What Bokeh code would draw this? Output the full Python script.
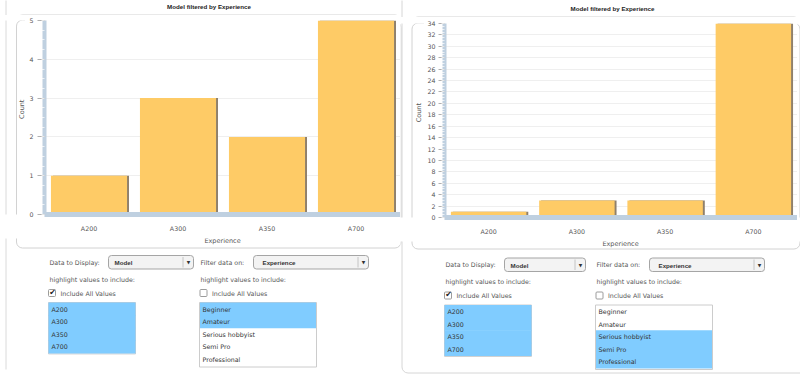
import math
from bokeh.plotting import figure
from bokeh.models import FactorRange, Range1d, SingleIntervalTicker, ColumnDataSource
from bokeh.layouts import row, column
from bokeh.transform import dodge
from bokeh.core.properties import value
from bokeh.embed import file_html
from bokeh.resources import INLINE

# ---------------- data ----------------
models = ["A200", "A300", "A350", "A700"]
counts_left = [1, 3, 2, 5]
counts_right = [1, 3, 3, 34]
experience_levels = ["Beginner", "Amateur", "Serious hobbyist", "Semi Pro", "Professional"]
selected_left = ["Beginner", "Amateur"]
selected_right = ["Serious hobbyist", "Semi Pro", "Professional"]
chart_title = "Model filtered by Experience"
x_title = "Experience"
y_title = "Count"
display_field = "Model"
filter_field = "Experience"
display_label = "Data to Display:"
filter_label = "Filter data on:"
hint_label = "highlight values to include:"
all_label = "Include All Values"

FONT = "DejaVu Sans"
BFONT = "Liberation Sans"
FS = "6.3px"
BAR = "#fecb66"
SHADOW = "#8f806c"
AXIS_BLUE = "#bfd0e0"
TXT = "#555555"
HILITE = "#80ccff"
EDGE = "#d2d2d2"


def deco(w, h, x0, y0):
    p = figure(width=w, height=h, x_range=Range1d(x0, x0 + w), y_range=Range1d(y0 + h, y0),
               toolbar_location=None, output_backend="svg",
               x_axis_location=None, y_axis_location=None,
               min_border=0, min_border_left=0, min_border_right=0,
               min_border_top=0, min_border_bottom=0)
    for g in p.grid:
        g.visible = False
    p.outline_line_color = None
    p.background_fill_color = "white"
    p.border_fill_color = "white"
    return p


def T(p, x, y, s, bold=False, color=TXT, align="left", size=None, angle=0):
    p.text(x=[x], y=[y], text=[s],
           text_font=value(BFONT if bold else FONT),
           text_font_size=value(size or ("6.2px" if bold else FS)),
           text_font_style=value("bold" if bold else "normal"),
           text_color=color, text_align=align, text_baseline="middle", angle=angle)


def Q(p, l, r, t, b, fill=None, line=EDGE, radius=0, lw=1):
    p.quad(left=[l], right=[r], top=[t], bottom=[b], fill_color=fill,
           line_color=line, line_width=lw, border_radius=radius)


def frames(p):
    # chart boxes and panel borders, in page pixel coordinates
    Q(p, 16, 400.5, 14.5, 247.5, radius=6)            # left chart box
    Q(p, 411.5, 799.5, 16.5, 248.5, radius=6)          # right chart box
    Q(p, 401.5, 900, -30, 372.5, radius=6, line="#d6d6d6")  # right panel
    p.segment(x0=[5.5], y0=[-5], x1=[5.5], y1=[369], line_color="#dadada", line_width=1)


def make_chart(counts, ymax, interval, w, h, bl, bt, bb, tick_out, standoff):
    src = ColumnDataSource(dict(model=models, count=counts))
    p = figure(width=w, height=h, x_range=FactorRange(factors=models),
               y_range=Range1d(0, ymax), toolbar_location=None,
               output_backend="svg", min_border_left=bl, min_border_right=0,
               min_border_top=bt, min_border_bottom=bb)
    p.outline_line_color = None
    p.background_fill_color = "white"
    p.border_fill_color = "white"
    p.xgrid.grid_line_color = None
    p.ygrid.grid_line_color = "#efefef"
    p.ygrid.ticker = SingleIntervalTicker(interval=interval)

    p.vbar(x=dodge("model", 0.022, range=p.x_range), top="count", width=0.855,
           source=src, fill_color=SHADOW, line_color=None)
    p.vbar(x="model", top="count", width=0.855, source=src,
           fill_color=BAR, line_color=None)

    ya = p.yaxis[0]
    ya.ticker = SingleIntervalTicker(interval=interval, num_minor_ticks=4)
    ya.axis_line_color = AXIS_BLUE
    ya.axis_line_width = 4
    ya.major_tick_line_color = "#b0b0b0"
    ya.major_tick_out = tick_out
    ya.major_tick_in = 0
    ya.minor_tick_line_color = "white"
    ya.minor_tick_line_alpha = 0.7
    ya.minor_tick_in = 0
    ya.minor_tick_out = 3
    ya.major_label_standoff = standoff
    ya.major_label_text_font = FONT
    ya.major_label_text_font_size = FS
    ya.major_label_text_color = TXT

    xa = p.xaxis[0]
    xa.axis_line_color = AXIS_BLUE
    xa.axis_line_width = 5
    xa.major_tick_line_color = None
    xa.minor_tick_line_color = None
    xa.major_tick_out = 0
    xa.major_tick_in = 0
    xa.major_label_standoff = 10
    xa.major_label_text_font = FONT
    xa.major_label_text_font_size = FS
    xa.major_label_text_color = TXT
    return p


def controls(p, ox, oy, s1w, left_items, left_sel, right_items, right_sel,
             all_left, all_right):
    # selects
    T(p, ox + 49, oy + 261.5, display_label)
    Q(p, ox + 108, ox + 108 + s1w, oy + 255, oy + 268.5, fill="#f3f3f3", line="#a5a5a5", radius=3)
    p.segment(x0=[ox + 108 + s1w - 10.5], y0=[oy + 256.5], x1=[ox + 108 + s1w - 10.5],
              y1=[oy + 267], line_color="#c4c4c4")
    T(p, ox + 114, oy + 262, display_field, bold=True, color="#333333")
    T(p, ox + 108 + s1w - 5, oy + 262, "\u25bc", color="#333333", align="center", size="4.5px")

    T(p, ox + 200, oy + 261.5, filter_label)
    Q(p, ox + 253, ox + 368, oy + 255, oy + 268.5, fill="#f3f3f3", line="#a5a5a5", radius=3)
    p.segment(x0=[ox + 357.5], y0=[oy + 256.5], x1=[ox + 357.5], y1=[oy + 267],
              line_color="#c4c4c4")
    T(p, ox + 262, oy + 262, filter_field, bold=True, color="#333333")
    T(p, ox + 363, oy + 262, "\u25bc", color="#333333", align="center", size="4.5px")

    # hints
    T(p, ox + 49, oy + 278.5, hint_label)
    T(p, ox + 200, oy + 278.5, hint_label)

    # checkboxes
    for cx, checked in ((ox + 48, all_left), (ox + 199.5, all_right)):
        Q(p, cx, cx + 7, oy + 289, oy + 296, fill="white", line="#9c9c9c", radius=1)
        if checked:
            T(p, cx + 4, oy + 291.5, "\u2714", color="#222222", align="center", size="8px")
        T(p, cx + 12, oy + 292.5, all_label)

    rh = 12.6
    # left list (display values)
    lx0, lx1 = ox + 48, ox + 135
    Q(p, lx0, lx1, oy + 302, oy + 302 + rh * len(left_items) + 1, fill="white", line="#cccccc")
    for i, it in enumerate(left_items):
        if it in left_sel:
            Q(p, lx0, lx1, oy + 302 + rh * i, oy + 302 + rh * (i + 1) + 0.6,
              fill=HILITE, line=None)
    for i, it in enumerate(left_items):
        T(p, lx0 + 3, oy + 308.5 + rh * i, it, color="#333333")

    # right list (filter values)
    rx0, rx1 = ox + 199, ox + 316
    Q(p, rx0, rx1, oy + 302, oy + 302 + rh * len(right_items) + 1.5, fill="white", line="#cccccc")
    for i, it in enumerate(right_items):
        if it in right_sel:
            Q(p, rx0 + 0.5, rx1 - 0.5, oy + 302 + rh * i, oy + 302 + rh * (i + 1) + 0.6,
              fill=HILITE, line=None)
    for i, it in enumerate(right_items):
        T(p, rx0 + 3, oy + 308.5 + rh * i, it, color="#333333")


# ---------------- left half ----------------
tl = deco(400, 15, 0, 0)
frames(tl)
T(tl, 208.5, 6, chart_title, bold=True, color="#222222", align="center")

ml = deco(25, 223, 0, 15)
frames(ml)
T(ml, 21.5, 117, y_title, align="center", size="6.5px", angle=math.pi / 2)
bar_l = make_chart(counts_left, 5, 1, 375, 223, 19, 5, 24, 7, 4)

bl = deco(400, 138, 0, 238)
frames(bl)
T(bl, 222, 240.5, x_title, align="center", size="6.5px")
controls(bl, 0, 0, 85, models, models, experience_levels, selected_left, True, False)

left_half = column(tl, row(ml, bar_l, spacing=0), bl, spacing=0)

# ---------------- right half ----------------
tr = deco(400, 17, 400, 0)
frames(tr)
T(tr, 612, 7.5, chart_title, bold=True, color="#222222", align="center")

mr = deco(24, 224, 400, 17)
frames(mr)
T(mr, 418.5, 120, y_title, align="center", size="6.5px", angle=math.pi / 2)
bar_r = make_chart(counts_right, 34, 2, 373, 224, 20, 6, 24, 6, 3)
mr2 = deco(3, 224, 797, 17)
frames(mr2)

br = deco(400, 135, 400, 241)
frames(br)
T(br, 620, 243.5, x_title, align="center", size="6.5px")
controls(br, 396, 2.5, 81, models, models, experience_levels, selected_right, True, False)

right_half = column(tr, row(mr, bar_r, mr2, spacing=0), br, spacing=0)

layout = row(left_half, right_half, spacing=0)
open("out.html", "w").write(file_html(layout, INLINE))
